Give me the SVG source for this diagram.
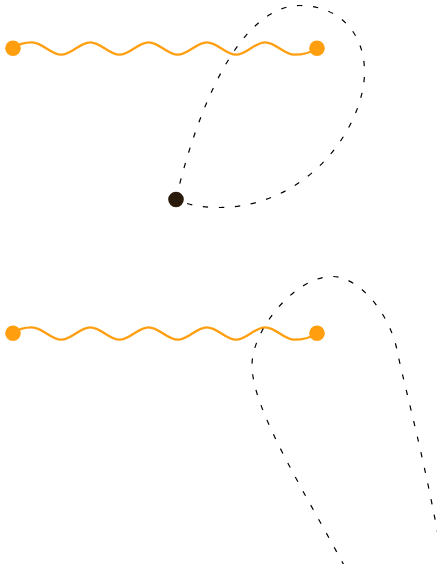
<svg xmlns="http://www.w3.org/2000/svg" width="437" height="564" viewBox="0 0 437 564">
<style>
.wave{fill:none;stroke:#FF9F10;stroke-width:2.2;stroke-linecap:round;stroke-linejoin:round}
.dash{fill:none;stroke:#000;stroke-width:1.2;stroke-dasharray:5.3 10.7}
.odot{fill:#FF9F10}
.bdot{fill:#2A1A0C}
</style>
<rect width="437" height="564" fill="#fff"/>
<g id="connectors">
<path id="wave-top" class="wave" d="M13,48.3 c5,-4.3 11,-6 19,-6 c10.6,0 18.55,12.4 29.15,12.4 c10.6,0 18.55,-12.4 29.15,-12.4 c10.6,0 18.55,12.4 29.15,12.4 c10.6,0 18.55,-12.4 29.15,-12.4 c10.6,0 18.55,12.4 29.15,12.4 c10.6,0 18.55,-12.4 29.15,-12.4 c10.6,0 18.55,12.4 29.15,12.4 c10.6,0 18.55,-12.4 29.15,-12.4 c10.6,0 18.55,12.4 29.15,12.4 c8.65,0 15.65,-1.7 22.65,-6.4"/>
<path id="wave-bottom" class="wave" d="M13,333.3 c5,-4.3 11,-6 19,-6 c10.6,0 18.55,12.4 29.15,12.4 c10.6,0 18.55,-12.4 29.15,-12.4 c10.6,0 18.55,12.4 29.15,12.4 c10.6,0 18.55,-12.4 29.15,-12.4 c10.6,0 18.55,12.4 29.15,12.4 c10.6,0 18.55,-12.4 29.15,-12.4 c10.6,0 18.55,12.4 29.15,12.4 c10.6,0 18.55,-12.4 29.15,-12.4 c10.6,0 18.55,12.4 29.15,12.4 c8.65,0 15.65,-1.7 22.65,-6.4"/>
<path id="loop-top" class="dash" d="M176,199 C197,109 240,5.5 300,5.5 C338,5.5 364.5,32 364.5,72 C364.5,125 310,207.5 218,207.5 C200,207.5 185,204 176,199"/>
<path id="loop-bottom" class="dash" d="M352,580 C305,492 252,410 252,365 C252,330 295,276.5 332,276.5 C360,276.5 390,315 397,350 C404,385 428,470 446,580"/>
</g>
<g id="node-a"><circle class="odot" cx="13" cy="48.3" r="7.8"/></g>
<g id="node-b"><circle class="odot" cx="317" cy="48.3" r="7.8"/></g>
<g id="node-c"><circle class="bdot" cx="176" cy="199.5" r="7.8"/></g>
<g id="node-d"><circle class="odot" cx="13" cy="333.3" r="7.8"/></g>
<g id="node-e"><circle class="odot" cx="317" cy="333.3" r="7.8"/></g>
</svg>
